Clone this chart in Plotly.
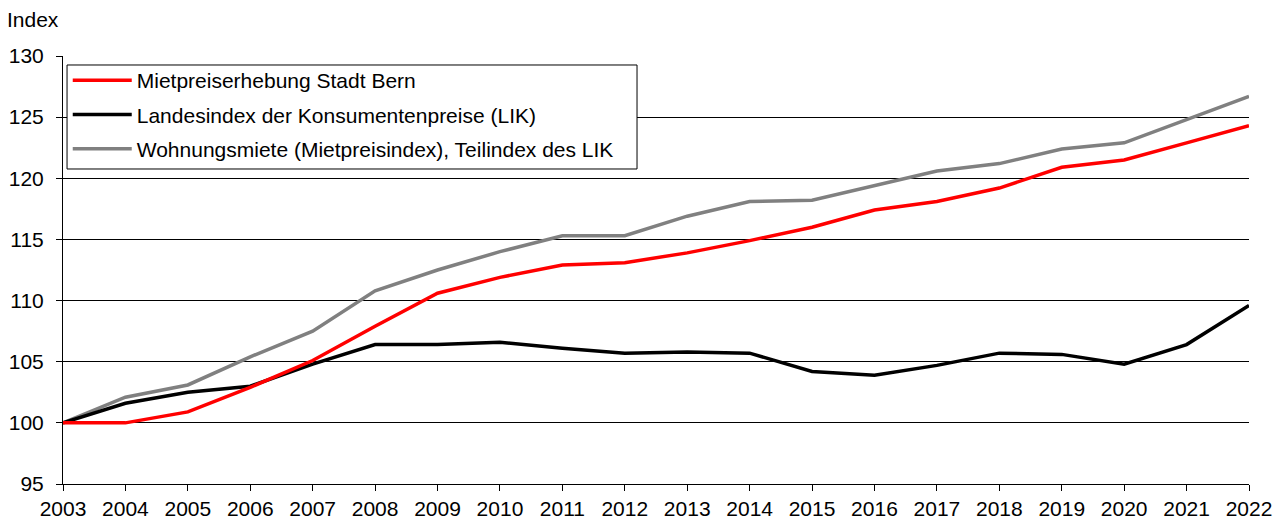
import plotly.graph_objects as go

years = list(range(2003, 2023))
mietpreis_bern = [100.0, 100.0, 100.9, 102.9, 105.1, 107.9, 110.6, 111.9, 112.9, 113.1,
                  113.9, 114.9, 116.0, 117.4, 118.1, 119.2, 120.9, 121.5, 122.9, 124.3]
lik = [100.0, 101.6, 102.5, 103.0, 104.8, 106.4, 106.4, 106.6, 106.1, 105.7,
       105.8, 105.7, 104.2, 103.9, 104.7, 105.7, 105.6, 104.8, 106.4, 109.6]
wohnungsmiete = [100.0, 102.1, 103.1, 105.4, 107.5, 110.8, 112.5, 114.0, 115.3, 115.3,
                 116.9, 118.1, 118.2, 119.4, 120.6, 121.2, 122.4, 122.9, 124.8, 126.7]

names = ["Mietpreiserhebung Stadt Bern",
         "Landesindex der Konsumentenpreise (LIK)",
         "Wohnungsmiete (Mietpreisindex), Teilindex des LIK"]
colors = ["#ff0000", "#000000", "#808080"]
series = [mietpreis_bern, lik, wohnungsmiete]
y_ticks = [95, 100, 105, 110, 115, 120, 125, 130]

fig = go.Figure()
for i in [2, 1, 0]:
    fig.add_trace(go.Scatter(
        x=years, y=series[i], name=names[i], mode="lines",
        line=dict(color=colors[i], width=3.5),
        legendrank=i + 1, legendgroup=str(i),
    ))

font = "Liberation Sans, Arial, sans-serif"
fs = 21
fig.update_layout(
    width=1286, height=519,
    margin=dict(l=63, r=37, t=56, b=35, autoexpand=False),
    paper_bgcolor="white", plot_bgcolor="white",
    font=dict(family=font, size=fs, color="black"),
    showlegend=True,
    legend=dict(
        x=0.004, y=0.9907, xanchor="left", yanchor="top",
        bgcolor="rgba(0,0,0,0)", borderwidth=0,
        font=dict(family=font, size=fs, color="black"),
        tracegroupgap=4, itemwidth=59,
    ),
    shapes=[dict(
        type="rect", xref="paper", yref="paper",
        x0=0.0034, x1=0.484, y0=0.736, y1=0.979,
        line=dict(color="black", width=1), fillcolor="white", layer="above",
    )],
    xaxis=dict(
        range=[2003, 2022], tickmode="array", tickvals=years,
        ticktext=[str(y) for y in years],
        showgrid=False, showline=True, linecolor="black", linewidth=1,
        ticks="outside", ticklen=6, tickcolor="black", zeroline=False,
        tickfont=dict(size=fs), automargin=False,
    ),
    yaxis=dict(
        range=[95, 130], tickmode="array", tickvals=y_ticks,
        showgrid=True, gridcolor="black", gridwidth=1,
        showline=True, linecolor="black", linewidth=1,
        ticks="outside", ticklen=6, tickcolor="black", zeroline=False,
        tickfont=dict(size=fs), automargin=False, ticklabelstandoff=8,
    ),
    annotations=[dict(
        text="Index", xref="paper", yref="paper", x=-0.0487, y=1.0536,
        xanchor="left", yanchor="bottom", showarrow=False,
        font=dict(family=font, size=fs, color="black"),
    )],
)

fig.write_html("out.html", config={"displayModeBar": False},
               post_script="document.body.style.margin='0px';")
